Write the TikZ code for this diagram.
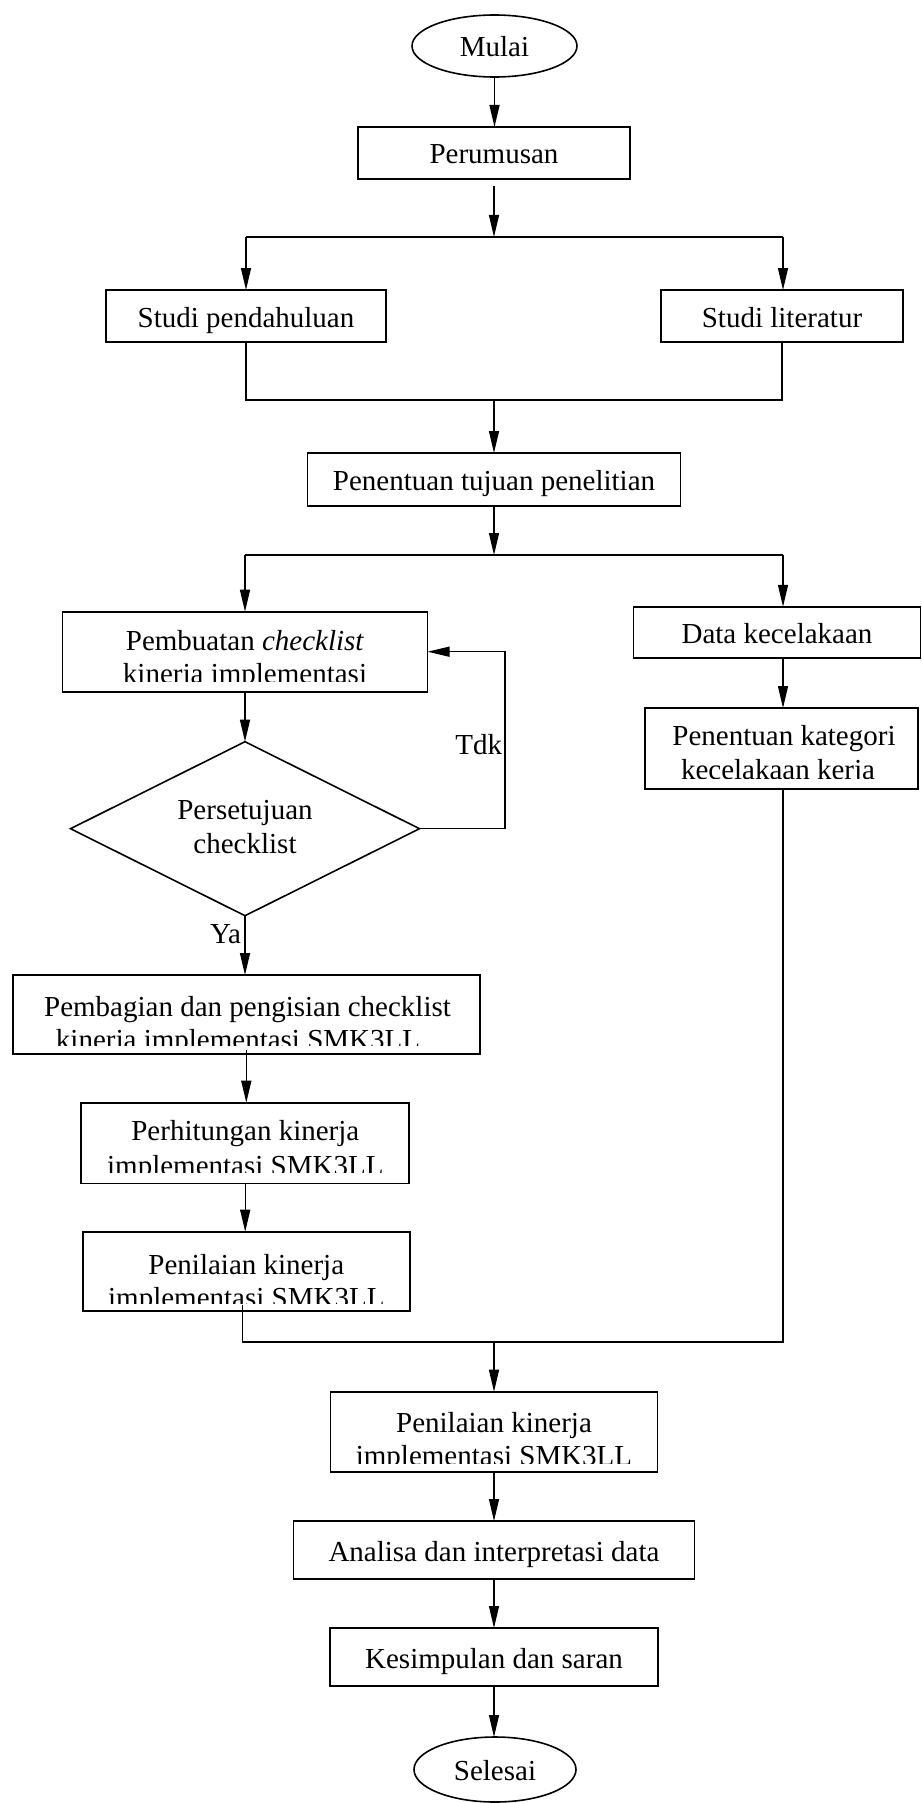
\documentclass[tikz,border=0pt]{standalone}
\usepackage{fontspec}
\setmainfont{Liberation Serif}
\usetikzlibrary{shapes.geometric,arrows.meta}
\tikzset{
  box/.style={draw, line width=1.6pt, rectangle, inner sep=0pt, outer sep=0pt, text height=24pt, text depth=2pt},
  term/.style={draw, line width=1.6pt, ellipse, inner sep=0pt, outer sep=0pt, text height=24pt, text depth=2pt},
  dec/.style={draw, line width=1.6pt, diamond, inner sep=0pt, outer sep=0pt},
  txt/.style={inner sep=0pt, outer sep=0pt, anchor=base},
  arr/.style={line width=1.4pt, -{Triangle[length=22pt,width=10pt]}},
  ln/.style={line width=1.4pt},
}
\begin{document}
\begin{tikzpicture}[x=1pt, y=-1pt, font=\fontsize{29}{33}\selectfont]
\fill[white] (0,0) rectangle (921,1803);
\useasboundingbox (0,0) rectangle (921,1803);

% nodes
\node[term, minimum width=165pt, minimum height=62pt] (mulai) at (494.5,46) {Mulai};
\node[box, minimum width=272pt, minimum height=52pt] (rumus) at (494,153) {Perumusan};
\node[box, minimum width=280pt, minimum height=52pt] (pend) at (246,316) {Studi pendahuluan};
\node[box, minimum width=242pt, minimum height=52pt] (lit) at (782,316) {Studi literatur};
\node[box, minimum width=373pt, minimum height=53pt] (tuj) at (494,479.5) {Penentuan tujuan penelitian};
\node[box, minimum width=365pt, minimum height=80pt] (buat) at (245,651.7) {};
\node[box, minimum width=287pt, minimum height=51.5pt] (data) at (777,632.5) {Data kecelakaan};
\node[box, minimum width=273pt, minimum height=81pt] (kat) at (781.5,748.5) {};
\node[dec, minimum width=349pt, minimum height=174pt] (dcs) at (245,828.7) {};
\node[box, minimum width=467pt, minimum height=79pt] (bagi) at (246.3,1014.5) {};
\node[box, minimum width=328pt, minimum height=80.6pt] (hit) at (245.2,1143) {};
\node[box, minimum width=327pt, minimum height=79pt] (nil1) at (246.3,1271.2) {};
\node[box, minimum width=327pt, minimum height=80pt] (nil2) at (494,1431.7) {};
\node[box, minimum width=401pt, minimum height=58pt] (anl) at (494,1550) {Analisa dan interpretasi data};
\node[box, minimum width=328pt, minimum height=58pt] (kes) at (494,1657) {Kesimpulan dan saran};
\node[term, minimum width=162pt, minimum height=65pt] (sel) at (495,1769.5) {Selesai};

% texts of the two-line boxes
\node[txt] (buat1) at (245,650.5) {Pembuatan \textit{checklist}};
\begin{scope}
  \clip (60,600) rectangle (430,681.7);
  \node[txt] (buat2) at (245,683) {kinerja implementasi};
\end{scope}
\node[txt] (kat1) at (784,745.7) {Penentuan kategori};
\begin{scope}
  \clip (640,700) rectangle (921,778.3);
  \node[txt] (kat2) at (778,779) {kecelakaan kerja};
\end{scope}
\node[txt] (dcs1) at (245,819) {Persetujuan};
\node[txt] (dcs2) at (245,853) {checklist};
\node[txt] (bagi1) at (247.5,1016) {Pembagian dan pengisian checklist};
\begin{scope}
  \clip (10,970) rectangle (482,1045);
  \node[txt] (bagi2) at (238,1049.7) {kinerja implementasi SMK3LL};
\end{scope}
\node[txt] (hit1) at (245.3,1140.7) {Perhitungan kinerja};
\begin{scope}
  \clip (80,1100) rectangle (410,1172.7);
  \node[txt] (hit2) at (245.3,1175) {implementasi SMK3LL};
\end{scope}
\node[txt] (nil11) at (246.3,1274) {Penilaian kinerja};
\begin{scope}
  \clip (80,1230) rectangle (412,1303.3);
  \node[txt] (nil12) at (246.3,1307.3) {implementasi SMK3LL};
\end{scope}
\node[txt] (nil21) at (494,1432) {Penilaian kinerja};
\begin{scope}
  \clip (328,1390) rectangle (660,1463.3);
  \node[txt] (nil22) at (494,1465.7) {implementasi SMK3LL};
\end{scope}

% labels
\node[txt, anchor=base east] (ya) at (241,943) {Ya};
\node[txt, anchor=base east] (tdk) at (502,754) {Tdk};

% junction points
\coordinate (sp1) at (494,237);
\coordinate (sp1L) at (246,237);
\coordinate (sp1R) at (783,237);
\coordinate (jn1) at (494,400);
\coordinate (jn1L) at (246,400);
\coordinate (jn1R) at (782,400);
\coordinate (sp2) at (494,555);
\coordinate (sp2L) at (245,555);
\coordinate (sp2R) at (783,555);
\coordinate (loop) at (505,828.7);
\coordinate (jn2) at (494,1342);
\coordinate (jn2L) at (242.7,1342);
\coordinate (jn2R) at (783,1342);

% connectors
\draw[arr] (mulai.south) -- (mulai.south |- rumus.north);
\draw[arr] ([yshift=-7pt]rumus.south) -- (sp1);
\draw[ln] (sp1L) -- (sp1R);
\draw[arr] (sp1L) -- (pend.north);
\draw[arr] (sp1R) -- (sp1R |- lit.north);
\draw[ln] (pend.south) -- (jn1L) -- (jn1R) -- (lit.south);
\draw[arr] (jn1) -- (jn1 |- tuj.north);
\draw[arr] (tuj.south) -- (sp2);
\draw[ln] (sp2L) -- (sp2R);
\draw[arr] (sp2L) -- (sp2L |- buat.north);
\draw[arr] (sp2R) -- (sp2R |- data.north);
\draw[arr] (sp2R |- data.south) -- (sp2R |- kat.north);
\draw[arr] (buat.south) -- (dcs.north);
\draw[arr] (dcs.east) -- (loop) |- (buat.east);
\draw[arr] (dcs.south) -- (dcs.south |- bagi.north);
\draw[arr] ([yshift=4pt]bagi.south) -- (bagi.south |- hit.north);
\draw[arr] (hit.south) -- (hit.south |- nil1.north);
\draw[ln] ([yshift=6pt]nil1.south -| jn2L) -- (jn2L) -- (jn2R) -- (kat.south -| jn2R);
\draw[arr] (jn2) -- (jn2 |- nil2.north);
\draw[arr] (nil2.south) -- (anl.north);
\draw[arr] (anl.south) -- (kes.north);
\draw[arr] (kes.south) -- (kes.south |- sel.north);
\end{tikzpicture}
\end{document}
